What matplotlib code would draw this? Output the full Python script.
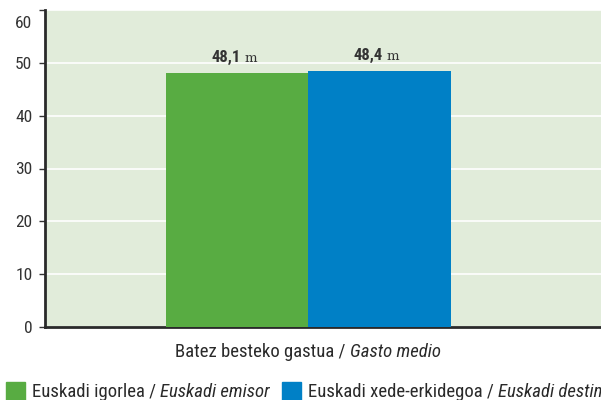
import matplotlib
matplotlib.use("Agg")
import matplotlib.pyplot as plt
from matplotlib.patches import Rectangle
from matplotlib.transforms import ScaledTranslation

plt.rcParams['font.family'] = ['Roboto Condensed', 'Roboto', 'DejaVu Sans']

categories = ["Euskadi igorlea /", "Euskadi xede-erkidegoa /"]
categories_it = ["Euskadi emisor", "Euskadi destino"]
values = [48.1, 48.4]
value_labels = ["48,1", "48,4"]
colors = ["#58ac42", "#0080c6"]
yticks = [0, 10, 20, 30, 40, 50, 60]

W, H = 601, 400
fig = plt.figure(figsize=(W / 100, H / 100), dpi=100)
ax = fig.add_axes([45 / W, 1 - 327 / H, 1 - 45 / W, 317 / H])
ax.set_facecolor("#e1ecda")

xs = [-1, 0]
ax.bar(xs, values, width=1, align="edge", color=colors, edgecolor="none", zorder=3)
ax.set_xlim(-1.846, 2.056)
ax.set_ylim(0, 60)
ax.set_yticks(yticks)
ax.set_xticks([])
ax.grid(axis="y", color="white", linewidth=1.2, zorder=1)
ax.tick_params(axis="y", length=4, width=1, labelsize=12.5, colors="#333333", pad=5)
for s in ["top", "right"]:
    ax.spines[s].set_visible(False)
for s in ["left", "bottom"]:
    ax.spines[s].set_linewidth(2)
    ax.spines[s].set_color("#2a2a2a")
ax.spines["left"].set_zorder(4)

# the top label sits lower than its tick
top_lab = ax.yaxis.get_major_ticks()[-1].label1
top_lab.set_transform(top_lab.get_transform() + ScaledTranslation(0, -0.12, fig.dpi_scale_trans))

for x, v, lab in zip(xs, values, value_labels):
    ax.annotate(lab, (x + 0.5, v), xytext=(2.5, 8), textcoords="offset points",
                ha="right", va="baseline", fontsize=12, fontweight="bold", color="#333333")
    ax.annotate("m", (x + 0.5, v), xytext=(5.5, 8), textcoords="offset points",
                ha="left", va="baseline", fontsize=9.5, family="DejaVu Serif", color="#333333")

fig.canvas.draw()
renderer = fig.canvas.get_renderer()


def mixed_text(x_px, y_px, regular, italic, ha="left"):
    t1 = fig.text(0, 0, regular, fontsize=13.5, color="#2a2a2a", va="baseline")
    t2 = fig.text(0, 0, italic, fontsize=13.5, style="italic", color="#2a2a2a", va="baseline")
    w1 = t1.get_window_extent(renderer).width
    w2 = t2.get_window_extent(renderer).width
    start = x_px if ha == "left" else x_px - (w1 + w2 + 4) / 2
    t1.set_position((start / W, 1 - y_px / H))
    t2.set_position(((start + w1 + 4) / W, 1 - y_px / H))


mixed_text(308, 357, "Batez besteko gastua /", "Gasto medio", ha="center")

legend_x = [6, 282]
for lx, c, reg, it in zip(legend_x, colors, categories, categories_it):
    fig.patches.append(Rectangle((lx / W, 1 - 400 / H), 19 / W, 18 / H,
                                 transform=fig.transFigure, color=c))
    mixed_text(lx + 26, 397, reg, it)

fig.savefig("out.png")
